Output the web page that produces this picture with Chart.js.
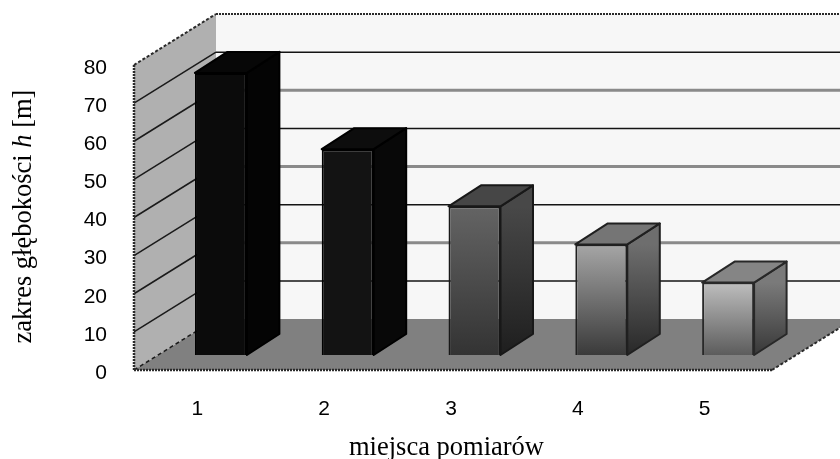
<!DOCTYPE html>
<html>
<head>
<meta charset="utf-8">
<style>html,body{margin:0;padding:0;background:#fff}#wrap{width:840px;height:459px}</style>
<script src="https://cdn.jsdelivr.net/npm/chart.js@4/dist/chart.umd.min.js"></script>
</head>
<body>
<div id="wrap"><canvas id="c" width="840" height="459"></canvas></div>
<script>
// Measurement sites and depth range at each of them
const sites = ['1', '2', '3', '4', '5'];
const depthRange = [74, 54, 39, 29, 19];
const yTitle = ['zakres głębokości ', 'h', ' [m]'];
const xTitle = 'miejsca pomiarów';

// Face shades for each column
const frontTop = ['#0b0b0b', '#131313', '#646464', '#a6a6a6', '#bebebe'];
const frontBottom = ['#0b0b0b', '#131313', '#333333', '#3a3a3a', '#5c5c5c'];
const sideTop = ['#040404', '#080808', '#484848', '#6e6e6e', '#7a7a7a'];
const sideBottom = ['#040404', '#080808', '#1e1e1e', '#282828', '#383838'];
const capShade = ['#070707', '#0d0d0d', '#464646', '#757575', '#858585'];
const edgeShade = ['#000000', '#000000', '#181818', '#202020', '#282828'];

// Oblique projection: the room recedes by ROOM, columns stand at BAR_OFFSET and are BAR_DEPTH deep
const ROOM = { dx: 82, dy: -51 };
const BAR_OFFSET = { dx: 23.5, dy: -15 };
const BAR_DEPTH = { dx: 32.5, dy: -21 };
const FLOOR_OVERHANG = 4;

const COLORS = { wall: '#f7f7f7', side: '#b0b0b0', floor: '#808080', line: '#1a1a1a', edge: '#2a2a2a' };
const TITLE_FONT = '"Liberation Serif"';
const TITLE_SIZE = 26.5;

function poly(ctx, pts, fill) {
  ctx.beginPath();
  pts.forEach((p, i) => i ? ctx.lineTo(p[0], p[1]) : ctx.moveTo(p[0], p[1]));
  ctx.closePath();
  ctx.fillStyle = fill;
  ctx.fill();
}

function seg(ctx, a, b, color, width, dash) {
  ctx.beginPath();
  ctx.moveTo(a[0], a[1]);
  ctx.lineTo(b[0], b[1]);
  ctx.strokeStyle = color;
  ctx.lineWidth = width;
  ctx.setLineDash(dash || []);
  ctx.stroke();
  ctx.setLineDash([]);
}

const room3d = {
  id: 'room3d',
  beforeDatasetsDraw(chart) {
    const { ctx, chartArea: a, scales: { y } } = chart;
    const W = chart.width;
    const bx = a.left + ROOM.dx, by = ROOM.dy;
    const fr = a.right + FLOOR_OVERHANG;
    ctx.save();
    // back wall, side wall, floor
    poly(ctx, [[bx, a.top + by], [W, a.top + by], [W, a.bottom + by], [bx, a.bottom + by]], COLORS.wall);
    poly(ctx, [[a.left, a.top], [bx, a.top + by], [bx, a.bottom + by], [a.left, a.bottom]], COLORS.side);
    poly(ctx, [[a.left, a.bottom], [fr, a.bottom], [fr + ROOM.dx, a.bottom + by], [bx, a.bottom + by]], COLORS.floor);
    // gridlines running along the side wall and the back wall
    y.ticks.forEach(t => {
      if (t.value === y.max) return;
      const py = y.getPixelForValue(t.value);
      if (t.value === 0) {
        seg(ctx, [a.left, py], [bx, py + by], COLORS.line, 1.5, [4, 3]);
        return;
      }
      seg(ctx, [a.left, py], [bx, py + by], COLORS.line, 1.5);
      const even = (t.value / 10) % 2 === 0;
      seg(ctx, [bx, py + by], [W, py + by], even ? '#8a8a8a' : '#141414', even ? 3 : 1.5);
    });
    // dotted outline of the room
    seg(ctx, [a.left, a.top], [a.left, a.bottom], COLORS.edge, 2.5, [2, 1]);
    seg(ctx, [a.left, a.bottom], [fr, a.bottom], COLORS.edge, 2.5, [2, 1]);
    seg(ctx, [a.left, a.top], [bx, a.top + by], COLORS.edge, 2, [3, 2]);
    seg(ctx, [bx, a.top + by], [W, a.top + by], COLORS.edge, 2, [2, 1]);
    seg(ctx, [fr, a.bottom], [fr + ROOM.dx, a.bottom + by], COLORS.edge, 2, [3, 2]);
    ctx.restore();
  },
  beforeDatasetDraw(chart) {
    chart.ctx.save();
    chart.ctx.translate(BAR_OFFSET.dx, BAR_OFFSET.dy);
  },
  afterDatasetDraw(chart, args) {
    const { ctx } = chart;
    chart.getDatasetMeta(args.index).data.forEach((el, i) => {
      const r = el.x + el.width / 2, l = el.x - el.width / 2;
      const { dx, dy } = BAR_DEPTH;
      const grad = ctx.createLinearGradient(0, el.y, 0, el.base);
      grad.addColorStop(0, sideTop[i]);
      grad.addColorStop(1, sideBottom[i]);
      ctx.lineJoin = 'round';
      ctx.lineWidth = 2;
      ctx.strokeStyle = edgeShade[i];
      poly(ctx, [[r, el.y], [r + dx, el.y + dy], [r + dx, el.base + dy], [r, el.base]], grad);
      ctx.stroke();
      poly(ctx, [[l, el.y], [l + dx, el.y + dy], [r + dx, el.y + dy], [r, el.y]], capShade[i]);
      ctx.stroke();
    });
    ctx.restore();
  },
  afterDraw(chart) {
    const { ctx } = chart;
    ctx.save();
    ctx.fillStyle = '#000';
    ctx.textBaseline = 'alphabetic';
    // horizontal axis title
    ctx.font = `${TITLE_SIZE}px ${TITLE_FONT}`;
    ctx.textAlign = 'center';
    ctx.fillText(xTitle, 446.5, 455);
    // vertical axis title: the symbol h is set in italics
    const upright = `${TITLE_SIZE}px ${TITLE_FONT}`, slanted = `italic ${TITLE_SIZE}px ${TITLE_FONT}`;
    const fonts = [upright, slanted, upright];
    const widths = yTitle.map((s, i) => { ctx.font = fonts[i]; return ctx.measureText(s).width; });
    const total = widths.reduce((p, w) => p + w, 0);
    ctx.translate(31, 216.5);
    ctx.rotate(-Math.PI / 2);
    ctx.textAlign = 'left';
    let x = -total / 2;
    yTitle.forEach((s, i) => {
      ctx.font = fonts[i];
      ctx.fillText(s, x, 0);
      x += widths[i];
    });
    ctx.restore();
  }
};

new Chart(document.getElementById('c'), {
  type: 'bar',
  data: {
    labels: sites,
    datasets: [{
      data: depthRange,
      clip: false,
      barPercentage: 0.41,
      categoryPercentage: 1,
      borderColor: ctx => edgeShade[ctx.dataIndex],
      borderWidth: 2,
      backgroundColor(c) {
        const y = c.chart.scales.y;
        if (!y || !c.chart.chartArea) return frontTop[c.dataIndex];
        const g = c.chart.ctx.createLinearGradient(0, y.getPixelForValue(depthRange[c.dataIndex]), 0, y.getPixelForValue(0));
        g.addColorStop(0, frontTop[c.dataIndex]);
        g.addColorStop(1, frontBottom[c.dataIndex]);
        return g;
      }
    }]
  },
  options: {
    responsive: false,
    animation: false,
    layout: { padding: { top: 65, right: 72, left: 0, bottom: 0 } },
    plugins: { legend: { display: false }, tooltip: { enabled: false } },
    scales: {
      x: {
        afterFit(s) { s.height = 89; },
        grid: { display: false, drawTicks: false },
        border: { display: false },
        ticks: { padding: 27, maxRotation: 0, color: '#000', font: { family: '"Liberation Sans"', size: 21 } }
      },
      y: {
        min: 0, max: 80,
        afterFit(s) { s.width = 134; },
        grid: { display: false, drawTicks: false },
        border: { display: false },
        ticks: { stepSize: 10, padding: 27, labelOffset: 3, color: '#000', font: { family: '"Liberation Sans"', size: 21 } }
      }
    }
  },
  plugins: [room3d]
});
</script>
</body>
</html>
